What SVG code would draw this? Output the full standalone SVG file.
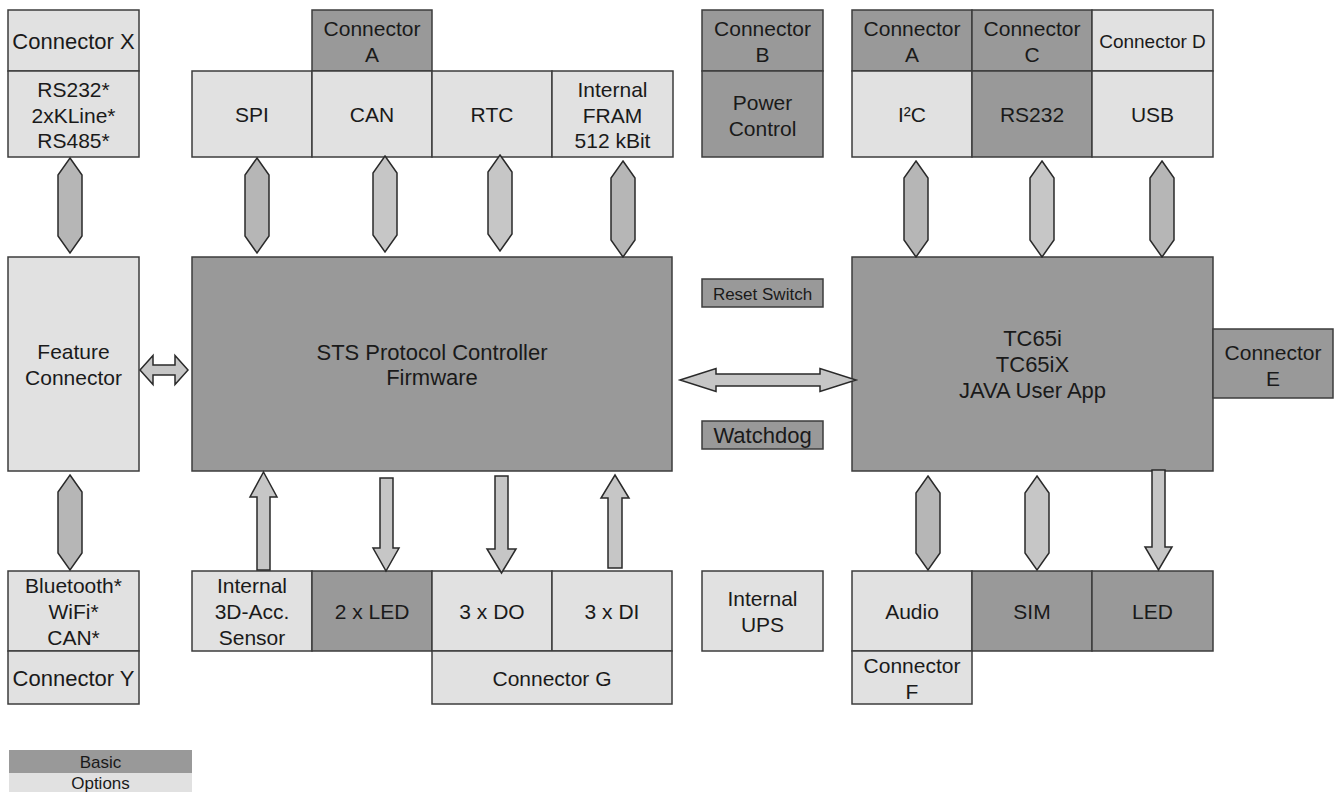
<svg xmlns="http://www.w3.org/2000/svg" width="1342" height="792" viewBox="0 0 1342 792">
<style>
  .dark{fill:#999999;stroke:#3c3c3c;stroke-width:1.5}
  .light{fill:#e1e1e1;stroke:#3c3c3c;stroke-width:1.5}
  text{font-family:"Liberation Sans",Arial,sans-serif;font-size:21px;fill:#1a1a1a;text-anchor:middle}
  .sm{font-size:17px}
  .leg{font-size:17px}
  .big{font-size:22px}
  .arA{fill:#b6b6b6;stroke:#2a2a2a;stroke-width:1.5;stroke-linejoin:miter}
  .arB{fill:#c6c6c6;stroke:#2a2a2a;stroke-width:1.5;stroke-linejoin:miter}
</style>
<rect width="1342" height="792" fill="#ffffff"/>

<!-- top left -->
<g id="connX"><rect class="light" x="8" y="10" width="131" height="61"/><text x="73.5" y="49" class="big">Connector X</text></g>
<g id="serial"><rect class="light" x="8" y="71" width="131" height="86"/><text x="73.5" y="97">RS232*</text><text x="73.5" y="122.5">2xKLine*</text><text x="73.5" y="148">RS485*</text></g>

<!-- top middle -->
<g id="spi"><rect class="light" x="192" y="71" width="120" height="86"/><text x="252" y="122">SPI</text></g>
<g id="connA1"><rect class="dark" x="312" y="10" width="120" height="61"/><text x="372" y="36">Connector</text><text x="372" y="61.5">A</text></g>
<g id="can"><rect class="light" x="312" y="71" width="120" height="86"/><text x="372" y="122">CAN</text></g>
<g id="rtc"><rect class="light" x="432" y="71" width="120" height="86"/><text x="492" y="122">RTC</text></g>
<g id="fram"><rect class="light" x="552" y="71" width="121" height="86"/><text x="612.5" y="97">Internal</text><text x="612.5" y="122.5">FRAM</text><text x="612.5" y="148">512 kBit</text></g>

<g id="connB"><rect class="dark" x="702" y="10" width="121" height="61"/><text x="762.5" y="36">Connector</text><text x="762.5" y="61.5">B</text></g>
<g id="power"><rect class="dark" x="702" y="71" width="121" height="86"/><text x="762.5" y="110">Power</text><text x="762.5" y="136">Control</text></g>

<!-- top right -->
<g id="connA2"><rect class="dark" x="852" y="10" width="120" height="61"/><text x="912" y="36">Connector</text><text x="912" y="61.5">A</text></g>
<g id="connC"><rect class="dark" x="972" y="10" width="120" height="61"/><text x="1032" y="36">Connector</text><text x="1032" y="61.5">C</text></g>
<g id="connD"><rect class="light" x="1092" y="10" width="121" height="61"/><text x="1152.5" y="48" style="font-size:19px">Connector D</text></g>
<g id="i2c"><rect class="light" x="852" y="71" width="120" height="86"/><text x="912" y="122">I²C</text></g>
<g id="rs232"><rect class="dark" x="972" y="71" width="120" height="86"/><text x="1032" y="122">RS232</text></g>
<g id="usb"><rect class="light" x="1092" y="71" width="121" height="86"/><text x="1152.5" y="122">USB</text></g>

<!-- middle -->
<g id="feature"><rect class="light" x="8" y="257" width="131" height="214"/><text x="73.5" y="359">Feature</text><text x="73.5" y="385">Connector</text></g>
<g id="sts"><rect class="dark" x="192" y="257" width="480" height="214"/><text x="432" y="360" class="big">STS Protocol Controller</text><text x="432" y="385" class="big">Firmware</text></g>
<g id="reset"><rect class="dark" x="702" y="279" width="121" height="28"/><text x="762.5" y="300" class="sm">Reset Switch</text></g>
<g id="watchdog"><rect class="dark" x="702" y="421" width="121" height="28"/><text x="762.5" y="443" class="big">Watchdog</text></g>
<g id="tc65"><rect class="dark" x="852" y="257" width="361" height="214"/><text x="1032.5" y="346" class="big">TC65i</text><text x="1032.5" y="372" class="big">TC65iX</text><text x="1032.5" y="398" class="big">JAVA User App</text></g>
<g id="connE"><rect class="dark" x="1213" y="329" width="120" height="69"/><text x="1273" y="360">Connector</text><text x="1273" y="386">E</text></g>

<!-- bottom -->
<g id="wireless"><rect class="light" x="8" y="571" width="131" height="80"/><text x="73.5" y="593">Bluetooth*</text><text x="73.5" y="619">WiFi*</text><text x="73.5" y="645">CAN*</text></g>
<g id="connY"><rect class="light" x="8" y="651" width="131" height="53"/><text x="73.5" y="686" class="big">Connector Y</text></g>
<g id="sensor"><rect class="light" x="192" y="571" width="120" height="80"/><text x="252" y="593">Internal</text><text x="252" y="619">3D-Acc.</text><text x="252" y="645">Sensor</text></g>
<g id="led2"><rect class="dark" x="312" y="571" width="120" height="80"/><text x="372" y="619">2 x LED</text></g>
<g id="do3"><rect class="light" x="432" y="571" width="120" height="80"/><text x="492" y="619">3 x DO</text></g>
<g id="di3"><rect class="light" x="552" y="571" width="120" height="80"/><text x="612" y="619">3 x DI</text></g>
<g id="connG"><rect class="light" x="432" y="651" width="240" height="53"/><text x="552" y="686">Connector G</text></g>
<g id="ups"><rect class="light" x="702" y="571" width="121" height="80"/><text x="762.5" y="606">Internal</text><text x="762.5" y="632">UPS</text></g>
<g id="audio"><rect class="light" x="852" y="571" width="120" height="80"/><text x="912" y="619">Audio</text></g>
<g id="sim"><rect class="dark" x="972" y="571" width="120" height="80"/><text x="1032" y="619">SIM</text></g>
<g id="led"><rect class="dark" x="1092" y="571" width="121" height="80"/><text x="1152.5" y="619">LED</text></g>
<g id="connF"><rect class="light" x="852" y="651" width="120" height="53"/><text x="912" y="673">Connector</text><text x="912" y="699">F</text></g>

<!-- legend -->
<g id="legend">
  <rect x="9" y="750" width="183" height="23" fill="#999999"/>
  <rect x="9" y="773" width="183" height="19" fill="#e1e1e1"/>
  <text x="100.5" y="768" class="leg">Basic</text>
  <text x="100.5" y="789" class="leg">Options</text>
</g>

<!-- connectors -->
<g id="connectors">
  <path class="arA" d="M70,158 L82,175 L82,236 L70,253 L58,236 L58,175 Z"/>
  <path class="arA" d="M257,158 L269,175 L269,236 L257,253 L245,236 L245,175 Z"/>
  <path class="arB" d="M385,156 L397,173 L397,235 L385,252 L373,235 L373,173 Z"/>
  <path class="arB" d="M500,155 L512,172 L512,234 L500,251 L488,234 L488,172 Z"/>
  <path class="arA" d="M623,161 L635,178 L635,240 L623,257 L611,240 L611,178 Z"/>
  <path class="arA" d="M916,161 L928,178 L928,240 L916,257 L904,240 L904,178 Z"/>
  <path class="arB" d="M1042,161 L1054,178 L1054,240 L1042,257 L1030,240 L1030,178 Z"/>
  <path class="arA" d="M1162,161 L1174,178 L1174,240 L1162,257 L1150,240 L1150,178 Z"/>
  <path class="arA" d="M70,475 L82,492 L82,553 L70,570 L58,553 L58,492 Z"/>
  <path class="arA" d="M928,476 L940,493 L940,553 L928,570 L916,553 L916,493 Z"/>
  <path class="arB" d="M1037,476 L1049,493 L1049,553 L1037,570 L1025,553 L1025,493 Z"/>
  <path class="arB" d="M140,370 L153,355.5 L153,365 L175,365 L175,355.5 L188,370 L175,384.5 L175,375 L153,375 L153,384.5 Z"/>
  <path class="arB" d="M680,380 L716,368.5 L716,374 L820,374 L820,368.5 L856,380 L820,391.5 L820,386 L716,386 L716,391.5 Z"/>
  <path class="arB" d="M263.5,472 L277,497 L270,497 L270,570 L257,570 L257,497 L250,497 Z"/>
  <path class="arB" d="M380,478 L393,478 L393,548 L399,548 L386,571 L373,548 L380,548 Z"/>
  <path class="arB" d="M495,476 L508,476 L508,549 L516,549 L501.5,573 L487,549 L495,549 Z"/>
  <path class="arB" d="M615,475 L629,498 L622,498 L622,568 L608,568 L608,498 L601,498 Z"/>
  <path class="arB" d="M1152,470 L1165,470 L1165,547 L1172,547 L1158.5,570 L1145,547 L1152,547 Z"/>
</g>
</svg>
